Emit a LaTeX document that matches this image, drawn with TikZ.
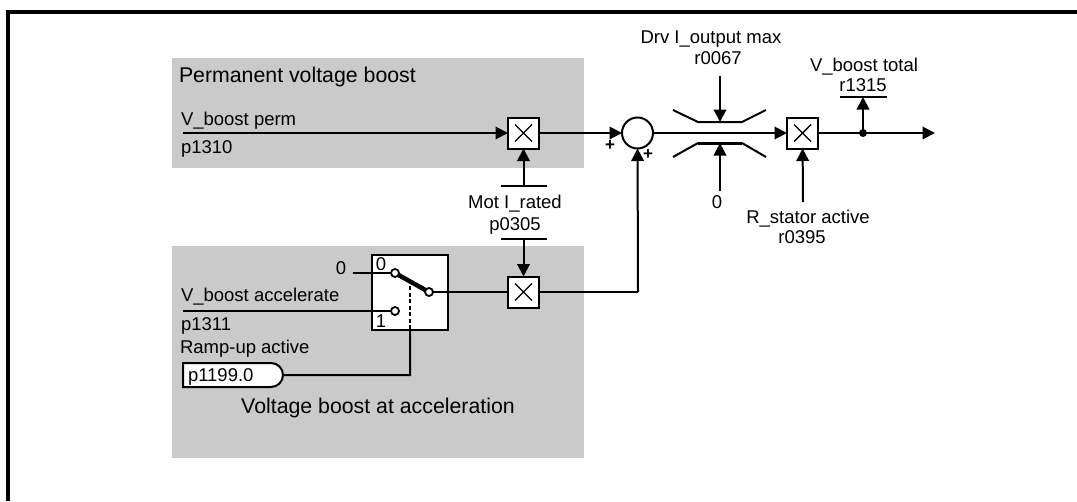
\documentclass[tikz,border=0pt]{standalone}
\usepackage{fontspec}
\setmainfont{Liberation Sans}
\usepackage{xcolor}
\usetikzlibrary{shapes.misc, arrows.meta, positioning, calc}
\definecolor{panelgray}{RGB}{202,202,202}
\tikzset{
  panel/.style ={rectangle, fill=panelgray, draw=none, inner sep=0pt, outer sep=0pt},
  lbl/.style   ={inner sep=0pt, outer sep=0pt, font=\fontsize{18.5}{22}\selectfont},
  lblw/.style  ={lbl, anchor=base west},
  lblc/.style  ={lbl, anchor=base},
  ttl/.style   ={font=\fontsize{21.3}{25}\selectfont},
  mul/.style   ={rectangle, draw=black, fill=white, line width=2pt, minimum size=31pt,
                 inner sep=0pt, outer sep=0pt,
                 path picture={\draw[line width=1.4pt]
                   ([shift={(-8.5pt,-8.5pt)}]path picture bounding box.center) --
                   ([shift={(8.5pt,8.5pt)}]path picture bounding box.center)
                   ([shift={(-8.5pt,8.5pt)}]path picture bounding box.center) --
                   ([shift={(8.5pt,-8.5pt)}]path picture bounding box.center);}},
  sumc/.style  ={circle, draw=black, fill=white, line width=2pt, minimum size=31pt,
                 inner sep=0pt, outer sep=0pt},
  port/.style  ={circle, draw=black, fill=white, line width=1.8pt, minimum size=8pt,
                 inner sep=0pt, outer sep=0pt},
  ln/.style    ={draw=black, line width=2pt},
  ar/.style    ={ln, -{Triangle[length=12.5pt,width=12.5pt]}},
}
\begin{document}
\begin{tikzpicture}[x=1pt,y=-1pt]
\useasboundingbox (0,0) rectangle (1077,501);
\coordinate (fa) at (8,501); \coordinate (fb) at (8,12); \coordinate (fc) at (1077,12);
\draw[line width=4pt, line join=miter] (fa)--(fb)--(fc);
% grey panels
\node[panel, minimum width=412pt, minimum height=110pt] (pa) at (378,113) {};
\node[panel, minimum width=412pt, minimum height=212pt] (pb) at (378,352) {};
\node[lblw, ttl] (ta) at (179,82) {Permanent voltage boost};
\node[lblc, ttl] (tb) at (378,413) {Voltage boost at acceleration};
% main blocks
\node[mul] (ma) at (523.5,133) {};
\node[sumc, right=83pt of ma] (s) {};
\node[mul, right=134pt of s] (mc) {};
\node[mul, below=128pt of ma] (mb) {};
\node[rectangle, draw=black, fill=white, line width=2pt, minimum width=76pt, minimum height=75pt,
      inner sep=0pt, outer sep=0pt, left=60pt of mb] (sw) {};
\node[lblc] (sw0) at (381,270) {0};
\node[lblc] (sw1) at (381,327) {1};
\node[port] (pz) at (395,273) {};
\node[port] (po) at (395,311) {};
\node[port] (pc) at (429,292) {};
% ends of the lines
\coordinate (ia) at (183,133);
\coordinate (ib) at (183,311);
\coordinate (iz) at (353,273);
\coordinate (bl1) at (501,186); \coordinate (br1) at (547,186); \coordinate (bm1) at (523.5,186);
\coordinate (bl2) at (501,239); \coordinate (br2) at (547,239); \coordinate (bm2) at (523.5,239);
\coordinate (kn) at (638,292);
\coordinate (la) at (673,110); \coordinate (lb) at (698,122); \coordinate (lc) at (742,122); \coordinate (ld) at (766,110);
\coordinate (le) at (673,157); \coordinate (lf) at (698,143); \coordinate (lg) at (742,143); \coordinate (lh) at (766,157);
\coordinate (lt) at (720,76); \coordinate (ltb) at (720,122);
\coordinate (lu) at (720,191); \coordinate (lub) at (720,143);
\coordinate (rs) at (803,202);
\coordinate (out) at (935,133);
\coordinate (bto) at (863,97); \coordinate (btl) at (840,97); \coordinate (btr) at (887,97);
\coordinate (dk) at (410,375); \coordinate (dt) at (410,329); \coordinate (de) at (410,284);
% ramp-up input
\node[rounded rectangle, rounded rectangle west arc=none, draw=black, fill=white, line width=2pt,
      minimum width=100pt, minimum height=24pt, inner sep=0pt, outer sep=0pt] (ru) at (233,375) {};
\node[lblw] (rut) at (188,381) {p1199.0};
% labels
\node[lblw] (lp1) at (181,125) {V\_boost perm};
\node[lblw] (lp2) at (181,153) {p1310};
\node[lblw] (lq1) at (181,301) {V\_boost accelerate};
\node[lblw] (lq2) at (181,330) {p1311};
\node[lblw] (lr) at (180,353) {Ramp-up active};
\node[lblc] (lz) at (341,274) {0};
\node[lblc] (lm1) at (515,208) {Mot I\_rated};
\node[lblc] (lm2) at (515,230) {p0305};
\node[lblc] (ld1) at (711,43) {Drv I\_output max};
\node[lblc] (ld2) at (718,64) {r0067};
\node[lblc] (l0) at (717,208) {0};
\node[lblc] (lr1) at (808,223) {R\_stator active};
\node[lblc] (lr2) at (802,243) {r0395};
\node[lblc] (lv1) at (864,71) {V\_boost total};
\node[lblc] (lv2) at (863,91) {r1315};
\node[lbl, font=\fontsize{17}{19}\selectfont\bfseries] (pl1) at (610,146) {+};
\node[lbl, font=\fontsize{17}{19}\selectfont\bfseries] (pl2) at (648,155) {+};
% connections
\draw[ar] (ia)--(ma);
\draw[ar] (ma)--(s);
\draw[ar] (bm1)--(ma);
\draw[ln] (bl1)--(br1); \draw[ln] (bl2)--(br2);
\draw[ar] (bm2)--(mb);
\draw[ln] (iz)--(pz); \draw[ln] (ib)--(po);
\draw[line width=4.5pt] (pz)--(pc);
\draw[ln] (pc)--(mb);
\draw[ln] (mb)--(kn);
\draw[ar] (kn)--(s);
\draw[ar] (s)--(mc);
\draw[ln, line join=bevel] (la)--(lb)--(lc)--(ld);
\draw[ln, line join=bevel] (le)--(lf); \draw[line width=3pt] (lf)--(lg); \draw[ln] (lg)--(lh);
\draw[ar] (lt)--(ltb);
\draw[ar] (lu)--(lub);
\draw[ar] (rs)--(mc);
\draw[ar] (mc)--(out);
\fill (bto|-mc) circle (4pt);
\draw[ar] (bto|-mc)--(bto);
\draw[ln] (btl)--(btr);
\draw[ln] (ru)--(dk)--(dt);
\draw[ln, dashed, dash pattern=on 4pt off 2.5pt] (dt)--(de);
\end{tikzpicture}
\end{document}
